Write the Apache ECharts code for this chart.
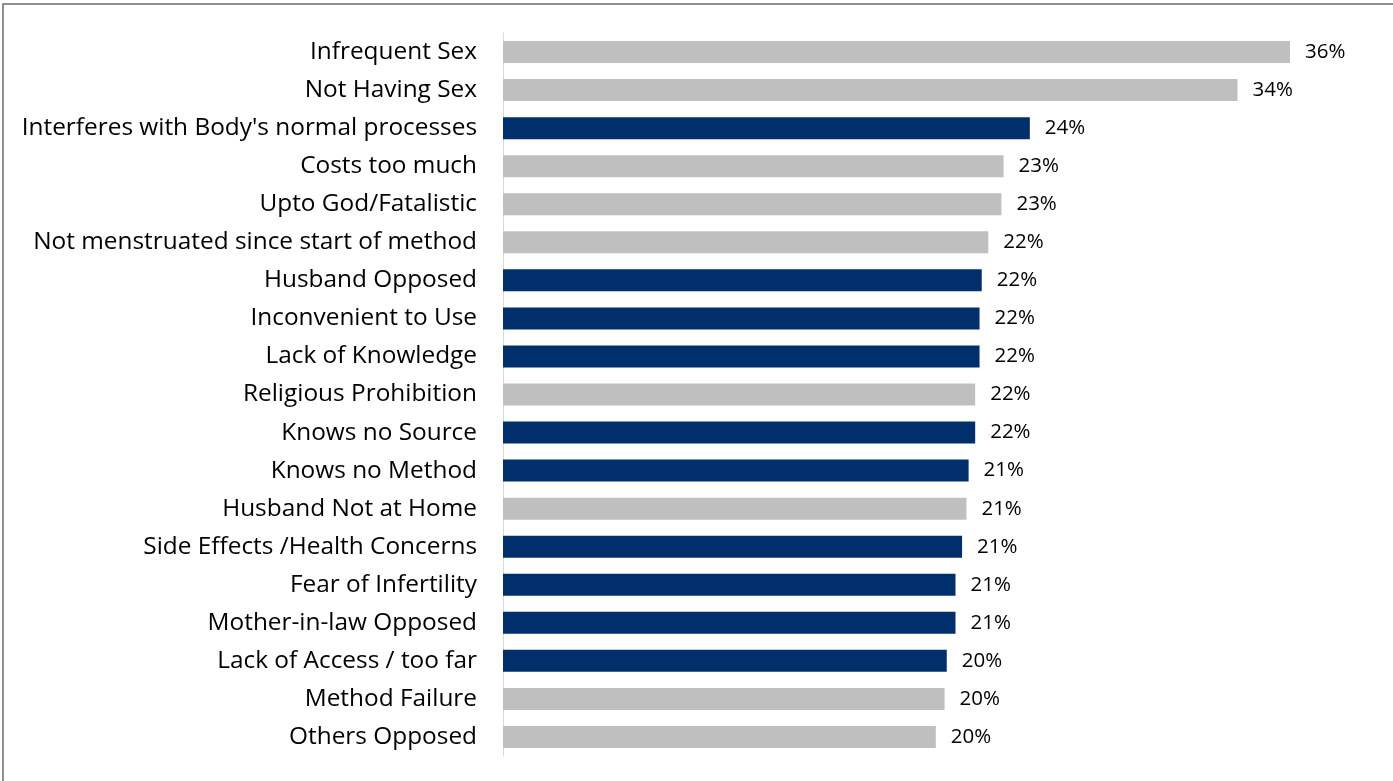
<!DOCTYPE html>
<html>
<head>
<meta charset="utf-8">
<script src="https://cdn.jsdelivr.net/npm/echarts@6/dist/echarts.min.js"></script>
<style>
html,body{margin:0;padding:0;background:#fff;}
#chart{width:1393px;height:781px;}
</style>
</head>
<body>
<div id="chart"></div>
<script>
const categories = [
  "Infrequent Sex",
  "Not Having Sex",
  "Interferes with Body's normal processes",
  "Costs too much",
  "Upto God/Fatalistic",
  "Not menstruated since start of method",
  "Husband Opposed",
  "Inconvenient to Use",
  "Lack of Knowledge",
  "Religious Prohibition",
  "Knows no Source",
  "Knows no Method",
  "Husband Not at Home",
  "Side Effects /Health Concerns",
  "Fear of Infertility",
  "Mother-in-law Opposed",
  "Lack of Access / too far",
  "Method Failure",
  "Others Opposed"
];
const values = [36.0, 33.6, 24.1, 22.9, 22.8, 22.2, 21.9, 21.8, 21.8, 21.6, 21.6, 21.3, 21.2, 21.0, 20.7, 20.7, 20.3, 20.2, 19.8];
const highlighted = [false, false, true, false, false, false, true, true, true, false, true, true, false, true, true, true, true, false, false];

const NAVY = '#002f6c';
const GRAY = '#bfbfbf';
const FONT = '"Open Sans", sans-serif';

const chart = echarts.init(document.getElementById('chart'));
chart.setOption({
  animation: false,
  backgroundColor: '#fff',
  graphic: [{
    type: 'rect',
    shape: { x: 3, y: 4, width: 1500, height: 900 },
    style: { fill: 'none', stroke: '#6b6b6b', lineWidth: 1.5 },
    silent: true
  }],
  grid: { left: 503, right: 15.6, top: 33, bottom: 25, containLabel: false },
  xAxis: {
    type: 'value', min: 0, max: 40,
    show: false, splitLine: { show: false }
  },
  yAxis: {
    type: 'category', data: categories, inverse: true,
    axisLine: { show: true, lineStyle: { color: '#d9d9d9', width: 1 } },
    axisTick: { show: false },
    axisLabel: { margin: 26, color: '#000', fontFamily: FONT, fontSize: 24.4 }
  },
  series: [{
    type: 'bar',
    barWidth: 22,
    data: values.map((v, i) => ({ value: v, itemStyle: { color: highlighted[i] ? NAVY : GRAY } })),
    label: {
      show: true, position: 'right', distance: 15,
      color: '#000', fontFamily: FONT, fontSize: 20.5,
      formatter: p => Math.round(p.value) + '%'
    }
  }]
});
</script>
</body>
</html>
